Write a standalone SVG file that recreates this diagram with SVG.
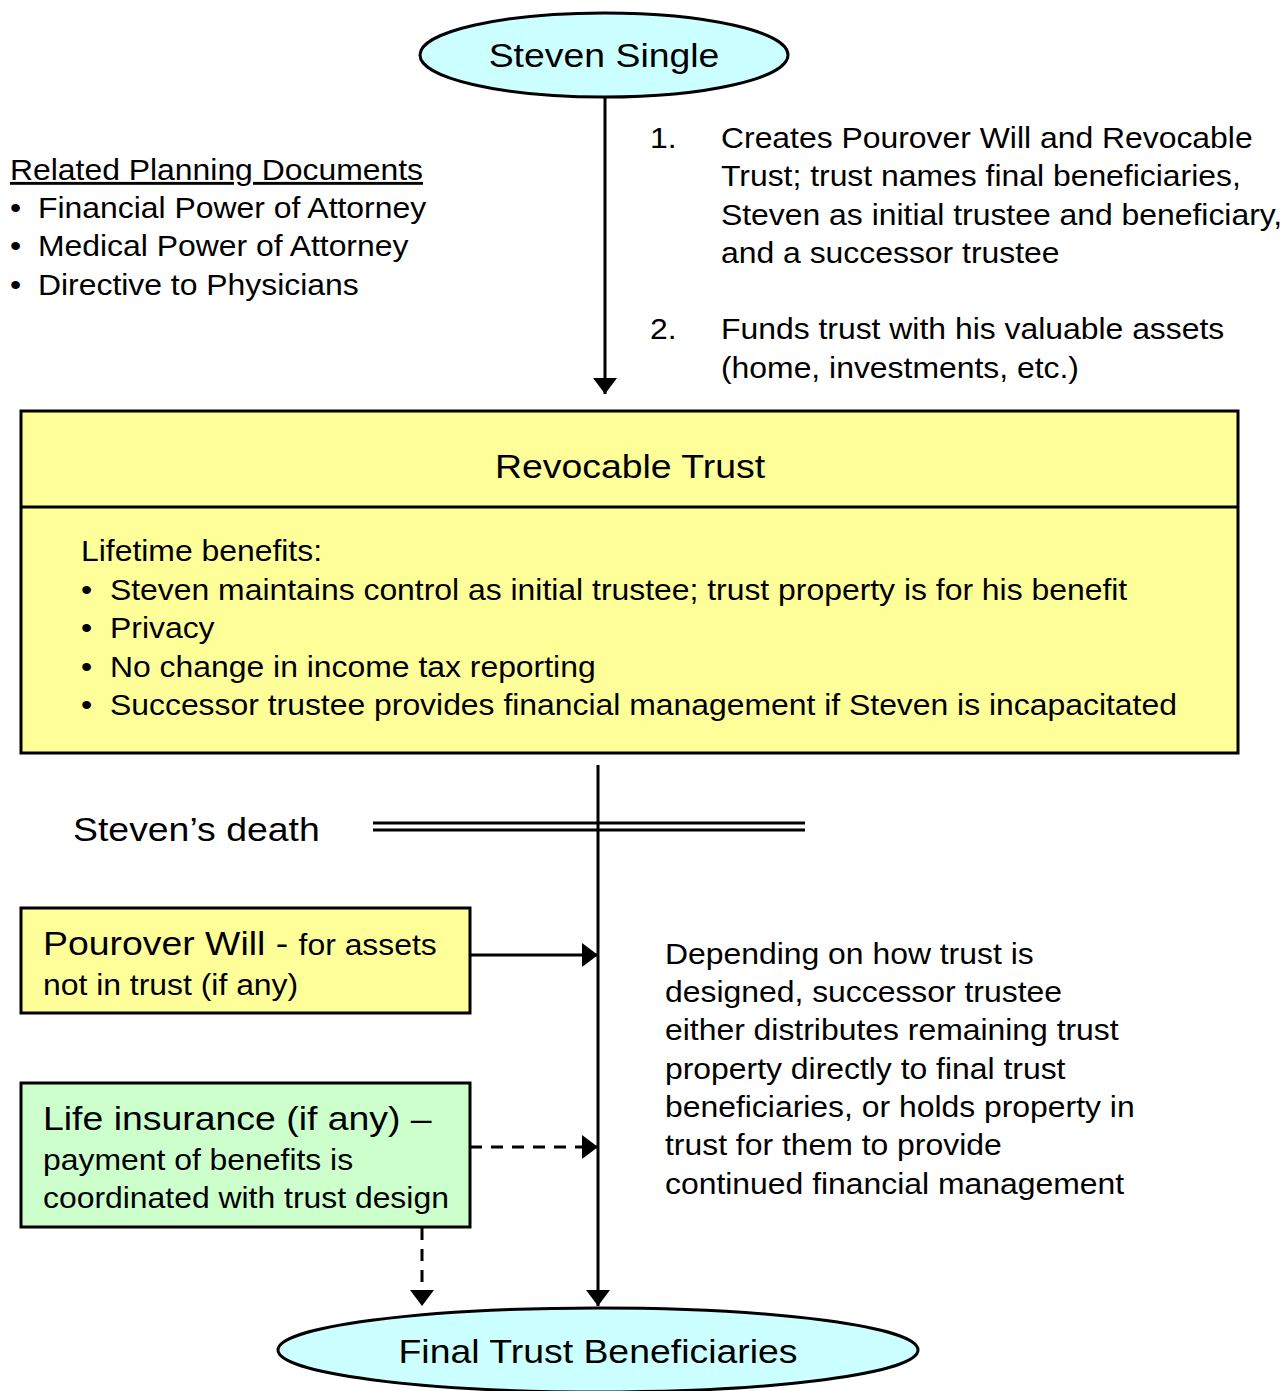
<svg xmlns="http://www.w3.org/2000/svg" width="1287" height="1391" viewBox="0 0 1287 1391">
<style>
text{font-family:"Liberation Sans",Arial,sans-serif;fill:#000}
.t{font-size:29px}
.b{font-size:34px}
.c{text-anchor:middle}
.ln{stroke:#000;stroke-width:3;fill:none}
.dash{stroke-dasharray:12,9}
</style>
<defs>
<marker id="ah2" viewBox="0 0 16 24" markerWidth="16" markerHeight="24" refX="16" refY="12" orient="auto" markerUnits="userSpaceOnUse">
<path d="M0,0 L16,12 L0,24 z" fill="#000"/>
</marker>
</defs>
<rect width="1287" height="1391" fill="#fff"/>

<g id="connectors">
<line class="ln" x1="605" y1="97" x2="605" y2="394" marker-end="url(#ah2)"/>
<line class="ln" x1="598" y1="765" x2="598" y2="1306" marker-end="url(#ah2)"/>
<line x1="373" y1="823" x2="805" y2="823" stroke="#000" stroke-width="3"/>
<line x1="373" y1="830" x2="805" y2="830" stroke="#000" stroke-width="3"/>
<line class="ln" x1="470" y1="955" x2="598" y2="955" marker-end="url(#ah2)"/>
<line class="ln dash" x1="470" y1="1147" x2="598" y2="1147" marker-end="url(#ah2)"/>
<line class="ln dash" x1="422" y1="1228" x2="422" y2="1306" marker-end="url(#ah2)"/>
</g>

<g id="steven">
<ellipse cx="604" cy="55" rx="184" ry="42" fill="#CCFFFF" stroke="#000" stroke-width="3"/>
<text class="b c" transform="matrix(1.1 0 0 1 604 67)">Steven Single</text>
</g>

<g id="steps">
<text class="t" transform="matrix(1.1 0 0 1 650 148)">1.</text>
<text class="t" transform="matrix(1.1 0 0 1 721 148)">Creates Pourover Will and Revocable</text>
<text class="t" transform="matrix(1.1 0 0 1 721 186)">Trust; trust names final beneficiaries,</text>
<text class="t" transform="matrix(1.1 0 0 1 721 225)">Steven as initial trustee and beneficiary,</text>
<text class="t" transform="matrix(1.1 0 0 1 721 263)">and a successor trustee</text>
<text class="t" transform="matrix(1.1 0 0 1 650 339)">2.</text>
<text class="t" transform="matrix(1.1 0 0 1 721 339)">Funds trust with his valuable assets</text>
<text class="t" transform="matrix(1.1 0 0 1 721 378)">(home, investments, etc.)</text>
</g>

<g id="related">
<text class="t" transform="matrix(1.1 0 0 1 10 180)" text-decoration="underline">Related Planning Documents</text>
<text class="t" transform="matrix(1.1 0 0 1 10 218)">•</text>
<text class="t" transform="matrix(1.1 0 0 1 38 218)">Financial Power of Attorney</text>
<text class="t" transform="matrix(1.1 0 0 1 10 256)">•</text>
<text class="t" transform="matrix(1.1 0 0 1 38 256)">Medical Power of Attorney</text>
<text class="t" transform="matrix(1.1 0 0 1 10 295)">•</text>
<text class="t" transform="matrix(1.1 0 0 1 38 295)">Directive to Physicians</text>
</g>

<g id="trust">
<rect x="21" y="411" width="1217" height="342" fill="#FFFF99" stroke="#000" stroke-width="3"/>
<line x1="21" y1="507" x2="1238" y2="507" stroke="#000" stroke-width="3"/>
<text class="b c" transform="matrix(1.1 0 0 1 630 478)">Revocable Trust</text>
<text class="t" transform="matrix(1.1 0 0 1 81 561)">Lifetime benefits:</text>
<text class="t" transform="matrix(1.1 0 0 1 81 600)">•</text>
<text class="t" transform="matrix(1.1 0 0 1 110 600)">Steven maintains control as initial trustee; trust property is for his benefit</text>
<text class="t" transform="matrix(1.1 0 0 1 81 638)">•</text>
<text class="t" transform="matrix(1.1 0 0 1 110 638)">Privacy</text>
<text class="t" transform="matrix(1.1 0 0 1 81 677)">•</text>
<text class="t" transform="matrix(1.1 0 0 1 110 677)">No change in income tax reporting</text>
<text class="t" transform="matrix(1.1 0 0 1 81 715)">•</text>
<text class="t" transform="matrix(1.1 0 0 1 110 715)">Successor trustee provides financial management if Steven is incapacitated</text>
</g>

<g id="death">
<text class="b" transform="matrix(1.1 0 0 1 73 841)">Steven’s death</text>
</g>

<g id="pourover">
<rect x="21" y="908" width="449" height="105" fill="#FFFF99" stroke="#000" stroke-width="3"/>
<text transform="matrix(1.1 0 0 1 43 955)"><tspan class="b">Pourover Will - </tspan><tspan class="t">for assets</tspan></text>
<text class="t" transform="matrix(1.1 0 0 1 43 995)">not in trust (if any)</text>
</g>

<g id="insurance">
<rect x="21" y="1083" width="449" height="144" fill="#CCFFCC" stroke="#000" stroke-width="3"/>
<text class="b" transform="matrix(1.1 0 0 1 43 1130)">Life insurance (if any) –</text>
<text class="t" transform="matrix(1.1 0 0 1 43 1170)">payment of benefits is</text>
<text class="t" transform="matrix(1.1 0 0 1 43 1208)">coordinated with trust design</text>
</g>

<g id="successor">
<text class="t" transform="matrix(1.1 0 0 1 665 964)">Depending on how trust is</text>
<text class="t" transform="matrix(1.1 0 0 1 665 1002)">designed, successor trustee</text>
<text class="t" transform="matrix(1.1 0 0 1 665 1040)">either distributes remaining trust</text>
<text class="t" transform="matrix(1.1 0 0 1 665 1079)">property directly to final trust</text>
<text class="t" transform="matrix(1.1 0 0 1 665 1117)">beneficiaries, or holds property in</text>
<text class="t" transform="matrix(1.1 0 0 1 665 1155)">trust for them to provide</text>
<text class="t" transform="matrix(1.1 0 0 1 665 1194)">continued financial management</text>
</g>

<g id="final">
<ellipse cx="598" cy="1350" rx="320" ry="42" fill="#CCFFFF" stroke="#000" stroke-width="3"/>
<text class="b c" transform="matrix(1.1 0 0 1 598 1363)">Final Trust Beneficiaries</text>
</g>
</svg>
